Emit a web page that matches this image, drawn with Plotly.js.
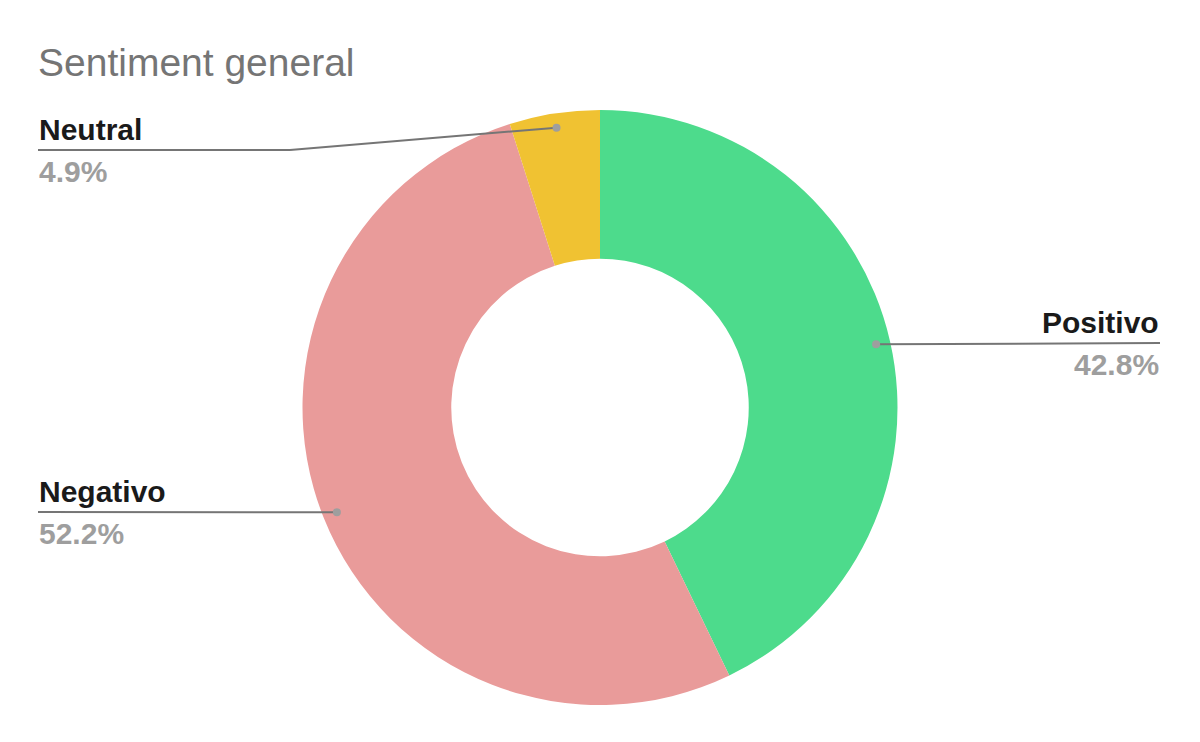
<!DOCTYPE html>
<html>
<head>
<meta charset="utf-8">
<script src="https://cdn.plot.ly/plotly-3.0.1.min.js"></script>
<style>html,body{margin:0;padding:0;background:#fff;}#chart{width:1200px;height:742px;}</style>
</head>
<body>
<div id="chart"></div>
<script>
const labels = ["Positivo", "Negativo", "Neutral"];
const values = [42.8, 52.2, 4.9];
const percentText = ["42.8%", "52.2%", "4.9%"];
const colors = ["#4DDB8C", "#E99B9A", "#F0C232"];

const W = 1200, H = 742;
const cx = 600, cy = 407.5, R = 297.5;
const font = "Liberation Sans, Arial, sans-serif";

const total = values.reduce((a, b) => a + b, 0);
// label anchor config per slice: side, line end x, line y (pixels)
const labelCfg = [
  {side: "right", endX: 1160, lineY: 343},
  {side: "left", endX: 38, lineY: 512},
  {side: "left", endX: 38, lineY: 150, elbowX: 290}
];

const shapes = [];
const annotations = [];
let cum = 0;
const px = x => x / W;
const py = y => 1 - y / H;
values.forEach((v, i) => {
  const mid = (cum + v / 2) / total * 2 * Math.PI;
  cum += v;
  const r = R * 0.952;
  const dx = cx + r * Math.sin(mid);
  const dy = cy - r * Math.cos(mid);
  const cfg = labelCfg[i];
  const line = {color: "#757575", width: 2};
  if (cfg.elbowX !== undefined) {
    shapes.push({type: "line", xref: "paper", yref: "paper", x0: px(dx), y0: py(dy), x1: px(cfg.elbowX), y1: py(cfg.lineY), line});
    shapes.push({type: "line", xref: "paper", yref: "paper", x0: px(cfg.elbowX), y0: py(cfg.lineY), x1: px(cfg.endX), y1: py(cfg.lineY), line});
  } else {
    shapes.push({type: "line", xref: "paper", yref: "paper", x0: px(dx), y0: py(dy), x1: px(cfg.endX), y1: py(cfg.lineY), line});
  }
  shapes.push({type: "circle", xref: "paper", yref: "paper", x0: px(dx - 4), x1: px(dx + 4), y0: py(dy - 4), y1: py(dy + 4), fillcolor: "#9E9E9E", line: {width: 0}});
  const xanchor = cfg.side === "right" ? "right" : "left";
  annotations.push({xref: "paper", yref: "paper", x: px(cfg.endX), y: py(cfg.lineY - 3), xanchor, yanchor: "bottom", showarrow: false,
    text: "<b>" + labels[i] + "</b>", font: {family: font, size: 30, color: "#1A1A1A"}, borderpad: 0});
  annotations.push({xref: "paper", yref: "paper", x: px(cfg.endX), y: py(cfg.lineY + 4), xanchor, yanchor: "top", showarrow: false,
    text: "<b>" + percentText[i] + "</b>", font: {family: font, size: 30, color: "#9E9E9E"}, borderpad: 0});
});

const data = [{
  type: "pie",
  labels: labels,
  values: values,
  marker: {colors: colors, line: {width: 0}},
  hole: 0.5,
  sort: false,
  direction: "clockwise",
  rotation: 0,
  textinfo: "none",
  hoverinfo: "label+percent",
  showlegend: false,
  domain: {x: [(cx - R) / W, (cx + R) / W], y: [1 - (cy + R) / H, 1 - (cy - R) / H]}
}];

const layout = {
  width: W, height: H,
  margin: {l: 0, r: 0, t: 0, b: 0},
  paper_bgcolor: "#FFFFFF",
  title: {text: "Sentiment general", x: 38 / W, xanchor: "left", y: 1 - 62 / H, yanchor: "middle", font: {family: font, size: 39, color: "#757575"}},
  shapes: shapes,
  annotations: annotations,
  showlegend: false
};

Plotly.newPlot("chart", data, layout, {displayModeBar: false, staticPlot: true});
</script>
</body>
</html>
